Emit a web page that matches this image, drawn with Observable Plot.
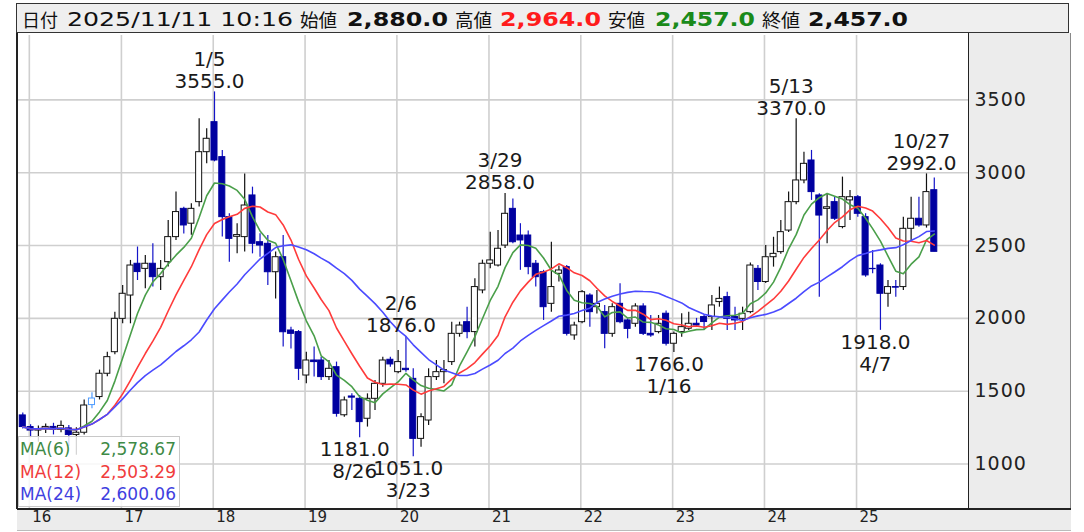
<!DOCTYPE html>
<html><head><meta charset="utf-8">
<script src="https://cdn.jsdelivr.net/npm/d3@7"></script>
<script src="https://cdn.jsdelivr.net/npm/@observablehq/plot@0.6"></script>
<style>
body{margin:0;background:#fff;}
#wrap{position:relative;width:1084px;height:532px;overflow:hidden;font-family:"DejaVu Sans",sans-serif;}
#header{position:absolute;left:16px;top:3px;width:1051px;height:28px;border:1.5px solid #333;background:#efefef;}
.ht{position:absolute;top:3px;height:32px;line-height:32px;white-space:nowrap;transform-origin:0 50%;color:#111;}
.cjk{font-family:"Noto Sans CJK JP",sans-serif;font-size:18px;}
.num{font-family:"DejaVu Sans",sans-serif;font-size:20px;}
.bold{font-weight:bold;}
#rpanel{position:absolute;left:968px;top:33px;width:103px;height:497px;background:#ececec;border-left:1.5px solid #222;border-right:1px solid #888;box-sizing:border-box;}
#bpanel{position:absolute;left:17px;top:508px;width:1054px;height:23px;background:#ececec;border-top:2px solid #222;border-bottom:1px solid #bbb;box-sizing:border-box;}
#lborder{position:absolute;left:16px;top:33px;width:2px;height:476px;background:#222;}
#chart{position:absolute;left:0;top:33px;}
#legend{position:absolute;left:18px;top:436px;width:162px;height:71px;background:rgba(255,255,255,0.82);border:1px solid #c8c8c8;box-sizing:border-box;font-size:17px;}
.lg{position:absolute;left:1px;width:158px;height:22px;line-height:22px;white-space:nowrap;}
.lg span.v{position:absolute;right:2px;}
</style></head>
<body><div id="wrap">
<div id="rpanel"></div>
<div id="bpanel"></div>
<div id="header"></div>
<div id="chart"></div>
<div id="lborder"></div>
<div id="legend"></div>
</div>
<script>
// ---- data: monthly candles, Dec 2015 .. Nov 2025 ----
const firstMonth = "2015-12";
const open = [
 1334,
 1254,1230,1240,1255,1235,1245,1200,1215,1405,1460,1620,1768,
 1997,2157,2375,2340,2375,2283,2386,2558,2752,2650,2798,3141,
 3347,3107,2695,2560,2558,2844,2523,2512,2317,2420,1917,1906,
 1608,1711,1711,1597,1665,1335,1464,1448,1311,1448,1551,1716,
 1631,1654,1585,1173,1299,1597,1631,1700,1894,1974,1906,2192,
 2375,2363,2500,2752,2569,2569,2375,2317,2100,2306,2352,1883,
 1974,2157,2077,2043,1894,2100,1986,1963,2082,1894,1906,2032,
 1826,1906,1929,1963,2009,2009,2112,2146,2009,1997,2043,2340,
 2250,2420,2455,2603,2798,2947,3084,2844,2752,2798,2627,2810,
 2832,2695,2340,2363,2169,2215,2215,2615,2684,2638,2880];
const high = [
 1350,
 1270,1262,1275,1280,1295,1265,1250,1440,1490,1645,1768,2043,
 2226,2398,2490,2432,2512,2398,2672,2867,2763,2787,3370,3302,
 3555,3153,2718,2650,2992,2901,2581,2569,2455,2569,1940,1917,
 1768,1803,1734,1711,1700,1460,1482,1470,1482,1574,1734,1734,
 1780,1876,1654,1345,1654,1711,1711,1974,1974,2077,2272,2400,
 2592,2604,2858,2820,2650,2600,2398,2330,2523,2360,2363,1974,
 2192,2169,2192,2089,2100,2237,1997,2100,2100,2020,2020,2050,
 1906,2032,2043,2000,2020,2157,2215,2180,2077,2077,2380,2363,
 2500,2557,2672,2867,3370,3141,3153,2855,2855,2832,2970,2878,
 2844,2718,2466,2375,2260,2260,2695,2832,2832,2992,2964];
const low = [
 1240,
 1180,1150,1210,1200,1215,1120,1060,1200,1380,1440,1600,1750,
 1963,1963,2260,2203,2215,2192,2352,2535,2580,2570,2764,3061,
 3075,2558,2386,2443,2455,2443,2420,2226,2134,1803,1790,1574,
 1551,1597,1574,1574,1322,1322,1368,1181,1254,1368,1528,1665,
 1620,1631,1051,1116,1265,1574,1551,1677,1871,1860,1803,2169,
 2340,2352,2480,2512,2330,2300,2215,1986,2043,2250,1880,1850,
 1963,1940,2031,1791,1870,1963,1860,1940,1883,1871,1894,1810,
 1766,1871,1917,1940,1917,1917,2077,1917,1917,1917,2032,2192,
 2240,2352,2440,2590,2780,2924,2810,2146,2512,2672,2615,2672,
 2695,2283,2306,1918,2077,2146,2192,2535,2626,2620,2457];
const close = [
 1254,
 1230,1240,1255,1235,1262,1200,1215,1402,1450,1620,1734,1997,
 2169,2363,2318,2375,2283,2340,2558,2730,2638,2752,3141,3233,
 3084,2695,2546,2572,2775,2512,2500,2317,2420,1905,1894,1654,
 1711,1700,1597,1654,1345,1437,1456,1288,1448,1551,1711,1684,
 1700,1645,1173,1322,1597,1631,1645,1894,1951,1906,2215,2375,
 2398,2478,2718,2523,2535,2352,2283,2077,2215,2329,1894,1951,
 2180,2043,2100,1894,2077,1974,1928,2082,1894,1883,1963,1826,
 1894,1940,1963,1951,1975,2089,2134,1997,1986,2032,2363,2250,
 2420,2443,2592,2798,2947,3061,2867,2706,2763,2684,2832,2832,
 2718,2295,2338,2169,2215,2211,2615,2684,2638,2867,2457];
// the one candle drawn in light blue on the reference
const highlightMonths = ["2016-09"];

// labelled highs / lows
const labelMonths = ["2018-01","2019-08","2020-02","2020-03","2021-03","2023-01","2024-05","2025-04","2025-10"];
const labelValues = [3555,1181,1876,1051,2858,1766,3370,1918,2992];
const labelDays   = ["1/5","8/26","2/6","3/23","3/29","1/16","5/13","4/7","10/27"];
const labelKinds  = ["high","low","high","low","high","low","high","low","high"];

// axes
const yTicks = [1000,1500,2000,2500,3000,3500];
const yearTicks = ["2016","2017","2018","2019","2020","2021","2022","2023","2024","2025"];

// moving averages
const maPeriods = [6,12,24];
const maNames = ["MA(6)","MA(12)","MA(24)"];
const maValues = ["2,578.67","2,503.29","2,600.06"];
const maColors = ["#4a9f4a","#ff3b3b","#4b4bff"];
const maTextColors = ["#3e8a46","#f03c3c","#3f3fe0"];

// header
const headerItems = [
 {t:"日付", cls:"cjk", x:22, w:36, c:"#111"},
 {t:"2025/11/11 10:16", cls:"num", x:67, w:226, c:"#111"},
 {t:"始値", cls:"cjk", x:300, w:37, c:"#111"},
 {t:"2,880.0", cls:"num bold", x:347, w:101, c:"#111"},
 {t:"高値", cls:"cjk", x:455, w:37, c:"#111"},
 {t:"2,964.0", cls:"num bold", x:500, w:101, c:"#ff1c1c"},
 {t:"安値", cls:"cjk", x:608, w:37, c:"#111"},
 {t:"2,457.0", cls:"num bold", x:655, w:100, c:"#1a8a1a"},
 {t:"終値", cls:"cjk", x:762, w:38, c:"#111"},
 {t:"2,457.0", cls:"num bold", x:808, w:100, c:"#111"}
];

// ---- build ----
const parseMonth = d3.utcParse("%Y-%m");
const m0 = parseMonth(firstMonth);
const fmtMonth = d3.utcFormat("%Y-%m");
const rows = close.map((c, i) => {
  const m = d3.utcMonth.offset(m0, i);
  return {
    date: d3.utcDay.offset(m, 5),
    x1: d3.utcDay.offset(m, -7),
    x2: d3.utcDay.offset(m, 17),
    open: open[i], high: high[i], low: low[i], close: c,
    up: c >= open[i],
    hl: highlightMonths.includes(fmtMonth(m))
  };
});
const labels = labelMonths.map((m, i) => ({
  date: d3.utcDay.offset(parseMonth(m), 5),
  value: labelValues[i],
  text: labelKinds[i] === "high" ? `${labelDays[i]}\n${labelValues[i].toFixed(1)}` : `${labelValues[i].toFixed(1)}\n${labelDays[i]}`,
  kind: labelKinds[i]
}));

const upColor = "#111", downColor = "#0000a0", hlColor = "#4f9cff";
const wickColor = d => d.hl ? hlColor : d.up ? upColor : "#1414c8";
const bodyStroke = d => d.hl ? hlColor : d.up ? upColor : downColor;
const maMarks = maPeriods.map((k, j) =>
  Plot.lineY(rows, Plot.windowY({k, anchor: "end", reduce: "mean"}, {x: "date", y: "close", stroke: maColors[j], strokeWidth: 1.6}))
);

const chart = Plot.plot({
  width: 1084, height: 499,
  marginLeft: 17, marginRight: 116, marginTop: 2, marginBottom: 24,
  style: {background: "transparent", fontFamily: "DejaVu Sans, sans-serif", overflow: "visible"},
  x: {type: "utc", domain: [new Date(Date.UTC(2015,10,15)), new Date(Date.UTC(2026,2,22))]},
  y: {domain: [695, 3942]},
  marks: [
    Plot.gridY(yTicks, {stroke: "#cfcfcf", strokeOpacity: 1, strokeWidth: 1.6}),
    Plot.gridX(yearTicks.map(y => new Date(Date.UTC(+y,0,1))), {stroke: "#cfcfcf", strokeOpacity: 1, strokeWidth: 1.6}),
    Plot.ruleX(rows, {x: "date", y1: "low", y2: "high", stroke: wickColor, strokeWidth: 1.2}),
    Plot.rect(rows, {x1: "x1", x2: "x2", y1: "open", y2: "close",
      fill: d => d.up ? "white" : downColor, stroke: bodyStroke, strokeWidth: 1}),
    ...maMarks,
    Plot.text(labels.filter(d => d.kind === "high"), {x: "date", y: "value", text: "text", lineAnchor: "bottom",
      dy: -4, dx: -5, fontSize: 20, lineHeight: 1.1, fill: "#1a1a1a"}),
    Plot.text(labels.filter(d => d.kind === "low"), {x: "date", y: "value", text: "text", lineAnchor: "top",
      dy: 3, dx: -5, fontSize: 20, lineHeight: 1.1, fill: "#1a1a1a"}),
    Plot.axisY(yTicks, {anchor: "right", tickSize: 0, tickPadding: 6, fontSize: 19, tickFormat: d3.format("d"), fill: "#222", label: null}),
    Plot.axisX(yearTicks.map(y => new Date(Date.UTC(+y,0,1))), {anchor: "bottom", tickSize: 0, tickPadding: 3, textAnchor: "start", dx: 3,
      fontSize: 15, tickFormat: d3.utcFormat("%y"), fill: "#222", label: null})
  ]
});
chart.querySelectorAll("g[aria-label='y-axis tick label'] text").forEach(t => { t.style.letterSpacing = "1px"; });
document.getElementById("chart").appendChild(chart);

// header
const wrap = document.getElementById("wrap");
headerItems.forEach(h => {
  const s = document.createElement("span");
  s.className = "ht " + h.cls;
  s.textContent = h.t;
  s.style.left = h.x + "px";
  s.style.color = h.c;
  wrap.appendChild(s);
  const w = s.getBoundingClientRect().width;
  s.style.transform = `scaleX(${h.w / w})`;
});

// legend
const lg = document.getElementById("legend");
maNames.forEach((n, j) => {
  const d = document.createElement("div");
  d.className = "lg";
  d.style.top = (j * 22.5 + 1) + "px";
  d.style.color = maTextColors[j];
  d.innerHTML = `<span>${n}</span><span class="v">${maValues[j]}</span>`;
  lg.appendChild(d);
});
</script>
</body></html>
